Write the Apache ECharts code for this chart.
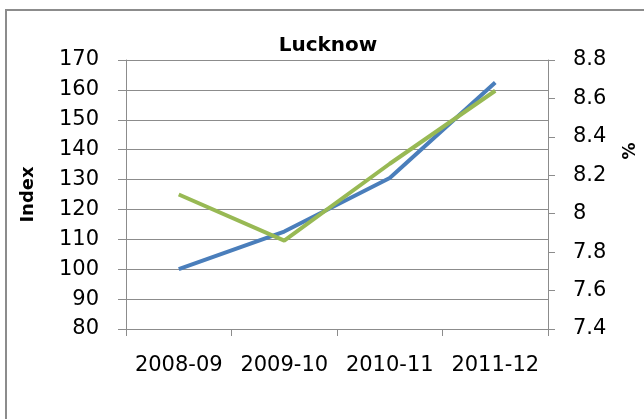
<!DOCTYPE html>
<html>
<head>
<meta charset="utf-8">
<script src="https://cdn.jsdelivr.net/npm/echarts@6/dist/echarts.min.js"></script>
<style>
  html, body { margin: 0; padding: 0; background: #fff; }
  #chart { width: 644px; height: 419px; }
</style>
</head>
<body>
<div id="chart"></div>
<script>
const categories = ['2008-09', '2009-10', '2010-11', '2011-12']
const indexValues = [100, 112.6, 130.5, 162.5]
const percentValues = [8.1, 7.86, 8.26, 8.64]

const myChart = echarts.init(document.getElementById('chart'))
const font = '"DejaVu Sans", sans-serif'

const option = {
    backgroundColor: '#fff',
    animation: false,
    title: {
        text: 'Lucknow',
        left: 323,
        top: 31,
        textAlign: 'center',
        textStyle: { fontSize: 20, fontWeight: 'bold', color: '#000', fontFamily: font }
    },
    graphic: [{
        type: 'rect',
        shape: { x: 6, y: 10, width: 700, height: 500 },
        style: { fill: 'none', stroke: '#8c8c8c', lineWidth: 2 }
    }, {
        // "%" label sits above the middle of the right axis
        type: 'text',
        x: 631,
        y: 151,
        rotation: Math.PI / 2,
        style: {
            text: '%',
            fontSize: 17,
            fontWeight: 'bold',
            fontFamily: font,
            fill: '#000',
            align: 'center',
            verticalAlign: 'middle'
        }
    }],
    grid: { left: 126, right: 96, top: 60, bottom: 90 },
    xAxis: {
        type: 'category',
        data: categories,
        boundaryGap: true,
        axisLine: { lineStyle: { color: '#8c8c8c' } },
        axisTick: { show: true, length: 7, lineStyle: { color: '#8c8c8c' } },
        axisLabel: { interval: 0, color: '#000', fontSize: 21, fontFamily: font, margin: 26 }
    },
    yAxis: [{
        type: 'value',
        min: 80,
        max: 170,
        interval: 10,
        name: 'Index',
        nameLocation: 'middle',
        nameGap: 89,
        nameTextStyle: { fontSize: 18, fontWeight: 'bold', color: '#000', fontFamily: font },
        axisLine: { show: true, lineStyle: { color: '#8c8c8c' } },
        axisTick: { show: true, length: 8, lineStyle: { color: '#8c8c8c' } },
        axisLabel: { color: '#000', fontSize: 21, fontFamily: font, margin: 27 },
        splitLine: { lineStyle: { color: '#8c8c8c' } }
    }, {
        type: 'value',
        min: 7.4,
        max: 8.8,
        interval: 0.2,
        axisLine: { show: true, lineStyle: { color: '#8c8c8c' } },
        axisTick: { show: true, length: 7, lineStyle: { color: '#8c8c8c' } },
        axisLabel: { color: '#000', fontSize: 21, fontFamily: font, margin: 25 },
        splitLine: { show: false }
    }],
    series: [{
        name: 'Index',
        type: 'line',
        data: indexValues,
        yAxisIndex: 0,
        symbol: 'none',
        lineStyle: { color: '#4a7ebb', width: 4 }
    }, {
        name: '%',
        type: 'line',
        data: percentValues,
        yAxisIndex: 1,
        symbol: 'none',
        lineStyle: { color: '#98b954', width: 4 }
    }]
}

myChart.setOption(option)
</script>
</body>
</html>
